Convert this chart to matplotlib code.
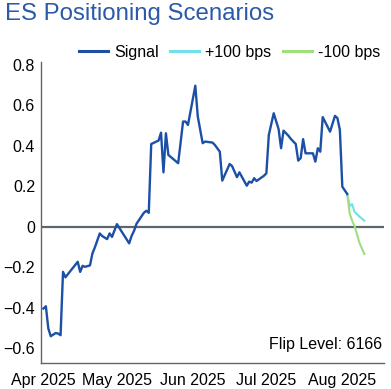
import numpy as np
import pandas as pd
import matplotlib
matplotlib.use("Agg")
import matplotlib.pyplot as plt
import matplotlib.dates as mdates

plt.rcParams['font.family'] = ['Liberation Sans', 'DejaVu Sans']

signal_dates = [
    "2025-04-01", "2025-04-02", "2025-04-03", "2025-04-04", "2025-04-06", "2025-04-07",
    "2025-04-08", "2025-04-09", "2025-04-10", "2025-04-11", "2025-04-15", "2025-04-16",
    "2025-04-17", "2025-04-18", "2025-04-20", "2025-04-21", "2025-04-22", "2025-04-24",
    "2025-04-25", "2025-04-27", "2025-04-28", "2025-04-29", "2025-05-01", "2025-05-06",
    "2025-05-07", "2025-05-08", "2025-05-09", "2025-05-12", "2025-05-13", "2025-05-14",
    "2025-05-15", "2025-05-18", "2025-05-19", "2025-05-20", "2025-05-21", "2025-05-22",
    "2025-05-26", "2025-05-28", "2025-05-29", "2025-05-30", "2025-06-02", "2025-06-03",
    "2025-06-05", "2025-06-06", "2025-06-09", "2025-06-10", "2025-06-12", "2025-06-13",
    "2025-06-16", "2025-06-17", "2025-06-19", "2025-06-20", "2025-06-23", "2025-06-24",
    "2025-06-25", "2025-06-26", "2025-06-27", "2025-06-30", "2025-07-01", "2025-07-02",
    "2025-07-04", "2025-07-06", "2025-07-07", "2025-07-08", "2025-07-10", "2025-07-11",
    "2025-07-13", "2025-07-14", "2025-07-15", "2025-07-16", "2025-07-17", "2025-07-20",
    "2025-07-21", "2025-07-22", "2025-07-23", "2025-07-24", "2025-07-27", "2025-07-29",
    "2025-07-30", "2025-07-31", "2025-08-01", "2025-08-03",
]
signal = [
    -0.404, -0.393, -0.503, -0.541, -0.525, -0.528,
    -0.536, -0.223, -0.250, -0.234, -0.173, -0.223,
    -0.193, -0.198, -0.191, -0.132, -0.102, -0.033,
    -0.046, -0.061, -0.033, -0.050, 0.013, -0.082,
    -0.045, -0.020, 0.015, 0.069, 0.079, 0.069,
    0.409, 0.426, 0.465, 0.269, 0.462, 0.355,
    0.314, 0.520, 0.520, 0.503, 0.697, 0.545,
    0.413, 0.421, 0.416, 0.404, 0.371, 0.228,
    0.310, 0.300, 0.245, 0.269, 0.203, 0.223,
    0.218, 0.240, 0.226, 0.252, 0.264, 0.454,
    0.561, 0.482, 0.388, 0.475, 0.450, 0.434,
    0.409, 0.327, 0.339, 0.433, 0.363, 0.363,
    0.322, 0.388, 0.371, 0.542, 0.470, 0.548,
    0.537, 0.479, 0.198, 0.162,
]

scen_dates = ["2025-08-03", "2025-08-04", "2025-08-05", "2025-08-06", "2025-08-08", "2025-08-10"]
up_100 = [0.162, 0.102, 0.112, 0.074, 0.050, 0.030]
down_100 = [0.162, 0.066, 0.030, 0.003, -0.079, -0.135]

yticks = [-0.6, -0.4, -0.2, 0, 0.2, 0.4, 0.6, 0.8]
ytick_labels = ["\u22120.6", "\u22120.4", "\u22120.2", "0", "0.2", "0.4", "0.6", "0.8"]
flip_level = 6166

fig = plt.figure(figsize=(3.91, 3.89), dpi=100)
ax = fig.add_axes([0.104, 0.067, 0.878, 0.774])

ax.axhline(0, color="#5f656d", lw=1.6, zorder=1)
ax.plot(pd.to_datetime(signal_dates), signal, color="#1c4fa6", lw=1.7, label="Signal", zorder=3)
ax.plot(pd.to_datetime(scen_dates), up_100, color="#72e0ea", lw=1.5, label="+100 bps", zorder=2)
ax.plot(pd.to_datetime(scen_dates), down_100, color="#9ee07e", lw=1.5, label="-100 bps", zorder=2)

ax.set_ylim(-0.673, 0.815)
ax.set_xlim(pd.Timestamp("2025-03-30 21:00"), pd.Timestamp("2025-08-18"))
ax.set_yticks(yticks)
ax.set_yticklabels(ytick_labels)
ax.xaxis.set_major_locator(mdates.MonthLocator())
ax.xaxis.set_major_formatter(mdates.DateFormatter("%b %Y"))
ax.tick_params(length=0, labelsize=11.5)
ax.tick_params(axis="x", pad=7)
ax.tick_params(axis="y", pad=4)

for s in ["top", "right"]:
    ax.spines[s].set_visible(False)
for s in ["left", "bottom"]:
    ax.spines[s].set_color("#5f656d")
    ax.spines[s].set_linewidth(1.0)

ax.text(0.995, 0.06, f"Flip Level: {flip_level}", transform=ax.transAxes,
        ha="right", va="center", fontsize=11.5)

fig.text(0.013, 0.965, "ES Positioning Scenarios", color="#2a5aa8",
         fontsize=17.3, ha="left", va="center")

leg = fig.legend(loc="center right", bbox_to_anchor=(0.972, 0.866), ncol=3, frameon=False,
                 fontsize=11.5, handlelength=1.8, columnspacing=0.75, handletextpad=0.37,
                 borderaxespad=0, borderpad=0)
for line in leg.get_lines():
    line.set_linewidth(2.2)

fig.savefig("out.png", dpi=100)
